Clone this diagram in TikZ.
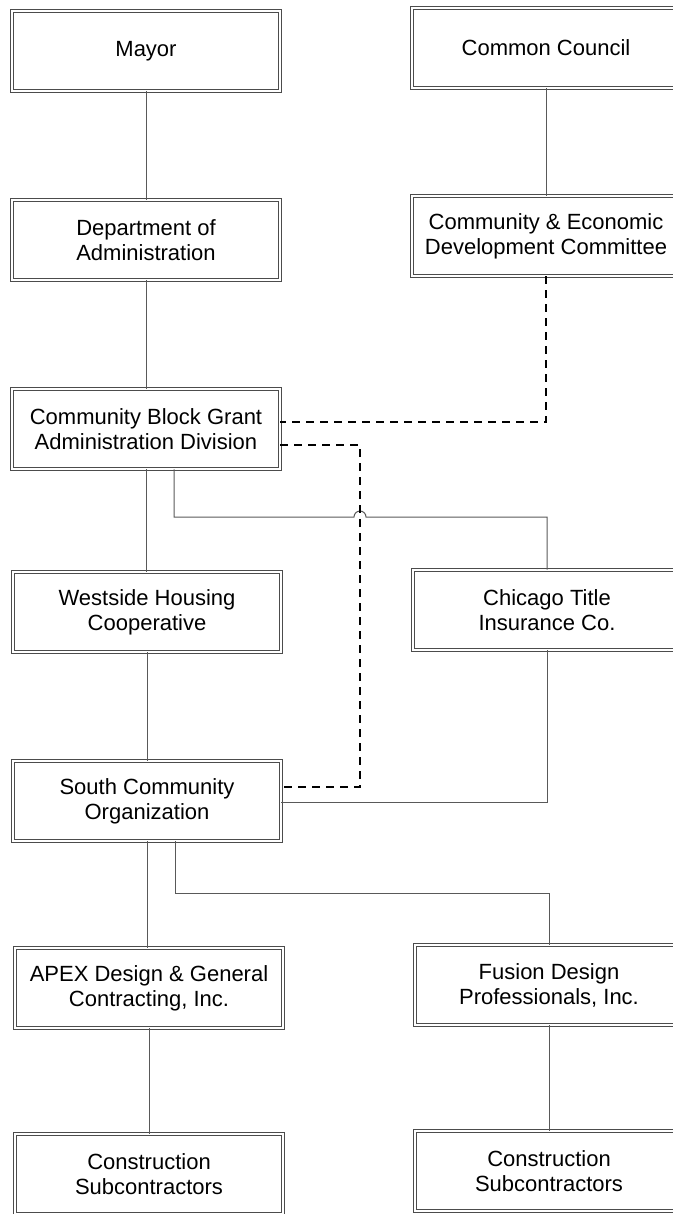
\documentclass[tikz,border=0pt]{standalone}
\usepackage{fontspec}
\setmainfont{Liberation Sans}
\begin{document}
\begin{tikzpicture}[x=0.5pt,y=-0.5pt,
  box/.style={draw=black!70, line width=0.45pt, double=white, double distance=1.4pt,
    fill=white, minimum width=134pt, minimum height=40pt, inner sep=2pt, align=center,
    font=\fontsize{11}{12.5}\selectfont},
  link/.style={draw=black!65, line width=0.5pt},
  dlink/.style={draw=black, line width=0.65pt, dash pattern=on 4pt off 3pt}]
\useasboundingbox (0,0) rectangle (673,1214);
% left column
\node[box] (mayor)   at (146,51)   {Mayor};
\node[box] (dept)    at (146,240)  {Department of\\Administration};
\node[box] (cbgad)   at (146,429)  {Community Block Grant\\Administration Division};
\node[box] (west)    at (147,612)  {Westside Housing\\Cooperative};
\node[box] (sco)     at (147,801)  {South Community\\Organization};
\node[box] (apex)    at (149,988)  {APEX Design \& General\\Contracting, Inc.};
\node[box] (cons1)   at (149,1174) {Construction\\Subcontractors};
% right column
\node[box] (cc)      at (546,48)   {Common Council};
\node[box] (cedc)    at (546,236)  {Community \& Economic\\Development Committee};
\node[box] (chicago) at (547,610)  {Chicago Title\\Insurance Co.};
\node[box] (fusion)  at (549,985)  {Fusion Design\\Professionals, Inc.};
\node[box] (cons2)   at (549,1171) {Construction\\Subcontractors};
% helper coordinates
\coordinate (dx) at (360,600);
\coordinate (hop) at (354,517);
\coordinate (fj) at (549,893);
% solid connectors
\draw[link] (mayor.south) -- (mayor.south |- dept.north);
\draw[link] (dept.south) -- (dept.south |- cbgad.north);
\draw[link] (cbgad.south) -- (cbgad.south |- west.north);
\draw[link] (west.south) -- (west.south |- sco.north);
\draw[link] (sco.south) -- (sco.south |- apex.north);
\draw[link] (apex.south) -- (apex.south |- cons1.north);
\draw[link] (cc.south) -- (cc.south |- cedc.north);
\draw[link] (fusion.south) -- (fusion.south |- cons2.north);
\draw[link] ([xshift=14pt]cbgad.south) |- (hop) arc[start angle=180, end angle=0, radius=3pt] -| (chicago.north);
\draw[link] (chicago.south) |- ([yshift=-0.5pt]sco.east);
\draw[link] ([xshift=14pt]sco.south) |- (fj) -- (fusion.north);
% dashed connectors
\draw[dlink] (cedc.south) |- ([yshift=3.5pt]cbgad.east);
\draw[dlink] ([yshift=-8pt]cbgad.east) -| (dx) |- ([yshift=7pt]sco.east);
\end{tikzpicture}
\end{document}
